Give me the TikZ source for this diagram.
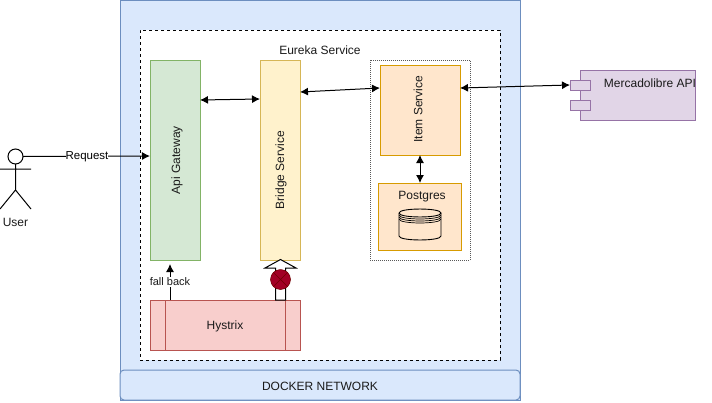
\documentclass[tikz,border=0pt]{standalone}
\usepackage{fontspec}
\setmainfont{Liberation Sans}
\usetikzlibrary{arrows.meta}
\definecolor{blueF}{HTML}{DAE8FC}\definecolor{blueD}{HTML}{6C8EBF}
\definecolor{greenF}{HTML}{D5E8D4}\definecolor{greenD}{HTML}{82B366}
\definecolor{yelF}{HTML}{FFF2CC}\definecolor{yelD}{HTML}{D6B656}
\definecolor{orF}{HTML}{FFE6CC}\definecolor{orD}{HTML}{D79B00}
\definecolor{redF}{HTML}{F8CECC}\definecolor{redD}{HTML}{B85450}
\definecolor{purF}{HTML}{E1D5E7}\definecolor{purD}{HTML}{9673A6}
\definecolor{stopF}{HTML}{A20025}\definecolor{stopD}{HTML}{6F0000}
\definecolor{txt}{HTML}{1A1A1A}
\tikzset{
  box/.style={draw,line width=1pt,anchor=north west,inner sep=0pt,outer sep=0pt},
  lab/.style={font=\fontsize{12}{14}\selectfont,text=txt,inner sep=1pt},
  link/.style={line width=1pt,{Latex[length=8pt,width=8pt]}-{Latex[length=8pt,width=8pt]}},
  onelink/.style={line width=1pt,-{Latex[length=8pt,width=8pt]}},
  actor/.style={line width=1pt,draw=black}
}
\begin{document}
\begin{tikzpicture}[x=1pt,y=-1pt]
\useasboundingbox (0,0) rectangle (712,402);
% outer panels
\node[box,draw=blueD,fill=blueF,minimum width=400pt,minimum height=400pt] (net) at (120,0) {};
\draw[draw=blueD,fill=blueF,line width=1pt,rounded corners=4pt] (120,370) rectangle (520,400);
\node[lab] (netlab) at (320,386) {DOCKER NETWORK};
\node[box,draw=black,fill=white,dashed,minimum width=360pt,minimum height=330pt] (eureka) at (140,30) {};
\node[lab] (eurekalab) at (320,50) {Eureka Service};
% services
\node[box,draw=greenD,fill=greenF,minimum width=50pt,minimum height=200pt] (gw) at (150,60) {};
\node[lab,rotate=90] (gwlab) at (177,160) {Api Gateway};
\node[box,draw=yelD,fill=yelF,minimum width=40pt,minimum height=200pt] (br) at (260,60) {};
\node[lab,rotate=90] (brlab) at (281,170) {Bridge Service};
\node[box,draw=black!65,densely dotted,line width=.8pt,fill=white,minimum width=100pt,minimum height=200pt] (group) at (370,60) {};
\node[box,draw=orD,fill=orF,minimum width=80pt,minimum height=90pt] (item) at (380,65) {};
\node[lab,rotate=90] (itemlab) at (418,109) {Item Service};
\node[box,draw=orD,fill=orF,minimum width=83pt,minimum height=67pt] (pg) at (378,183) {};
\node[lab] (pglab) at (422,197) {Postgres};
% cylinder
\draw[black,line width=.9pt] (399,213) -- (399,236) .. controls (399,241.3) and (441,241.3) .. (441,236) -- (441,213);
\draw[black,line width=.9pt] (399,213) .. controls (399,207.7) and (441,207.7) .. (441,213) .. controls (441,218.3) and (399,218.3) .. (399,213);
\foreach \d in {2,4,6}{\draw[black,line width=.7pt] (399,213+\d) .. controls (399,218.3+\d) and (441,218.3+\d) .. (441,213+\d);}
% Hystrix
\node[box,draw=redD,fill=redF,minimum width=150pt,minimum height=50pt] (hy) at (150,300) {};
\draw[redD,line width=1pt] (165,300) -- (165,350) (285,300) -- (285,350);
\node[lab] (hylab) at (225,326) {Hystrix};
% external
\node[box,draw=purD,fill=purF,minimum width=115pt,minimum height=50pt] (ml) at (580,70) {};
\node[box,draw=purD,fill=purF,minimum width=20pt,minimum height=10pt] (p1) at (570,80) {};
\node[box,draw=purD,fill=purF,minimum width=20pt,minimum height=10pt] (p2) at (570,100) {};
\node[lab] (mllab) at (650,83) {Mercadolibre API};
% user
\node[circle,actor,minimum size=15pt,inner sep=0pt,outer sep=0pt] (head) at (15.5,156.5) {};
\draw[actor] (head.south) -- (15.5,190) -- (0,209) (15.5,190) -- (31,209) (0,169) -- (31,169);
\node[lab] (userlab) at (15.5,222) {User};
% connectors
\coordinate (reqE) at (150,156);
\draw[onelink] (head.east) -- (reqE) node[pos=.504,fill=white,inner sep=0pt,font=\fontsize{11.5}{14}\selectfont,text=black] (reqlab) {Request};
\coordinate (a1) at (200,100);\coordinate (a2) at (260,99);
\draw[link] (a1) -- (a2);
\coordinate (b1) at (300,92);\coordinate (b2) at (380,88);
\draw[link] (b1) -- (b2);
\coordinate (c1) at (460,88);
\draw[link] (c1) -- (p1.west);
\draw[link] (item.south) -- (item.south |- pg.north);
\coordinate (f1) at (170,300);\coordinate (f2) at (170,264);
\draw[onelink] (f1) -- (f2) node[pos=.5,fill=white,inner sep=0.5pt,font=\fontsize{11}{13}\selectfont,text=txt] (fblab) {fall back};
% hollow arrow
\draw[line width=1pt,fill=white] (275.5,300) -- (275.5,268) -- (265,268) -- (280.5,259.5) -- (296,268) -- (285.5,268) -- (285.5,300) -- cycle;
\node[circle,draw=stopD,fill=stopF,minimum size=20pt,inner sep=0pt,line width=.5pt] (stop) at (280.5,279.5) {};
\draw[stopD,line width=.5pt] (stop.north west) -- (stop.south east) (stop.north east) -- (stop.south west);
\end{tikzpicture}
\end{document}
